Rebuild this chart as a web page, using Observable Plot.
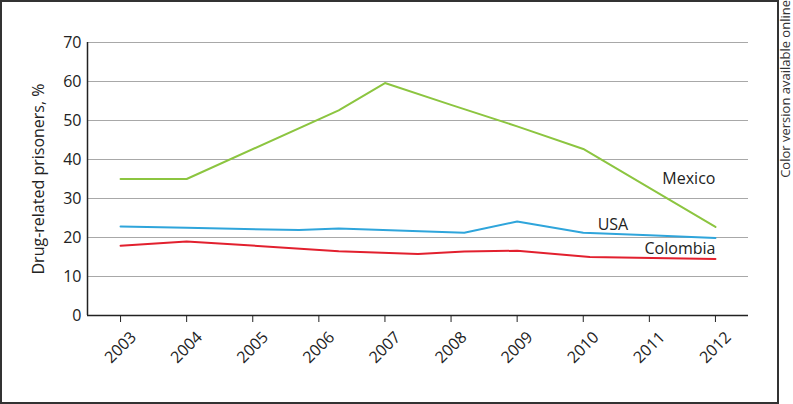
<!DOCTYPE html>
<html><head><meta charset="utf-8">
<script src="https://cdn.jsdelivr.net/npm/d3@7"></script>
<script src="https://cdn.jsdelivr.net/npm/@observablehq/plot@0.6"></script>
<style>
body{margin:0;background:#fff;font-family:"Open Sans",sans-serif;}
#wrap{position:relative;width:793px;height:404px;overflow:hidden;}
#frame{position:absolute;left:0;top:0;width:775px;height:400px;border:2px solid #333;pointer-events:none;}
#chart{position:absolute;left:0;top:0;}
#note{position:absolute;left:778px;top:0px;writing-mode:vertical-rl;transform:rotate(180deg);font-size:13px;line-height:15px;color:#333;white-space:nowrap;}
</style></head>
<body>
<div id="wrap"><div id="chart"></div><div id="frame"></div><div id="note">Color version available online</div></div>
<script>
const xTicks = [2003, 2004, 2005, 2006, 2007, 2008, 2009, 2010, 2011, 2012];
const yTicks = [0, 10, 20, 30, 40, 50, 60, 70];

const mexicoYears  = [2003, 2004, 2006.3, 2007, 2008, 2009, 2010, 2011, 2012];
const mexicoValues = [35.0, 35.0, 52.6, 59.6, 54.0, 48.5, 42.7, 32.7, 22.7];

const usaYears  = [2003, 2004, 2005.7, 2006.3, 2008.2, 2009, 2010, 2011, 2012];
const usaValues = [22.8, 22.5, 21.9, 22.3, 21.2, 24.1, 21.2, 20.6, 19.9];

const colombiaYears  = [2003, 2004, 2006.3, 2007.5, 2008.2, 2009, 2010.1, 2012];
const colombiaValues = [17.9, 19.0, 16.5, 15.8, 16.4, 16.6, 15.0, 14.5];

const seriesNames  = ["Mexico", "USA", "Colombia"];
const seriesColors = ["#8cc540", "#2fa5db", "#e2202e"];
const labelYears   = [2012, 2010.68, 2012];
const labelValues  = [35.1, 23.3, 17.2];

const seriesData = [
  [mexicoYears, mexicoValues],
  [usaYears, usaValues],
  [colombiaYears, colombiaValues]
];
const rows = seriesData.flatMap(([xs, vs], i) => xs.map((x, j) => ({series: seriesNames[i], year: x, value: vs[j]})));
const labels = seriesNames.map((s, i) => ({series: s, year: labelYears[i], value: labelValues[i]}));

const plot = Plot.plot({
  width: 776, height: 404,
  marginLeft: 87, marginRight: 28, marginTop: 42, marginBottom: 89,
  style: {fontFamily: "Open Sans", fontSize: "16px", color: "#222", background: "transparent"},
  x: {type: "linear", domain: [2002.5, 2012.5]},
  y: {domain: [0, 70]},
  color: {domain: seriesNames, range: seriesColors},
  marks: [
    Plot.gridY(yTicks, {stroke: "#a8a8a8", strokeOpacity: 1, strokeWidth: 1.2}),
    Plot.axisY(yTicks, {tickSize: 0, tickPadding: 6, fontSize: 16, label: "Drug-related prisoners, %", labelAnchor: "center", labelArrow: "none", labelOffset: 55}),
    Plot.axisX(xTicks, {tickFormat: d => String(d), tickRotate: -45, tickSize: 7, tickPadding: 25, textAnchor: "middle", lineAnchor: "middle", fontSize: 16, label: null, stroke: "#222"}),
    Plot.ruleY([0], {stroke: "#222", strokeWidth: 1.5}),
    Plot.ruleX([2002.5], {stroke: "#222", strokeWidth: 1.5}),
    Plot.line(rows, {x: "year", y: "value", z: "series", stroke: "series", strokeWidth: 2}),
    Plot.text(labels, {x: "year", y: "value", text: "series", textAnchor: "end", fontSize: 16, fill: "#222"})
  ]
});
document.getElementById("chart").appendChild(plot);
</script>
</body></html>
